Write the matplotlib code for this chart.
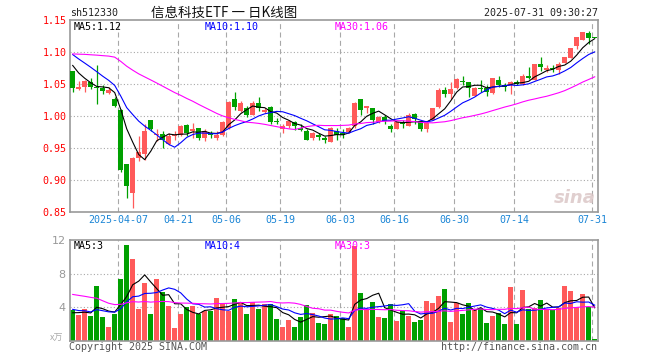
import matplotlib
matplotlib.use('Agg')
import matplotlib.pyplot as plt
import numpy as np
import pandas as pd

# trading days shown on the chart
dates = ['2025-03-25', '2025-03-26', '2025-03-27', '2025-03-28', '2025-03-31',
         '2025-04-01', '2025-04-02', '2025-04-03', '2025-04-07', '2025-04-08',
         '2025-04-09', '2025-04-10', '2025-04-11', '2025-04-14', '2025-04-15',
         '2025-04-16', '2025-04-17', '2025-04-18', '2025-04-21', '2025-04-22',
         '2025-04-23', '2025-04-24', '2025-04-25', '2025-04-28', '2025-04-29',
         '2025-04-30', '2025-05-06', '2025-05-07', '2025-05-08', '2025-05-09',
         '2025-05-12', '2025-05-13', '2025-05-14', '2025-05-15', '2025-05-16',
         '2025-05-19', '2025-05-20', '2025-05-21', '2025-05-22', '2025-05-23',
         '2025-05-26', '2025-05-27', '2025-05-28', '2025-05-29', '2025-05-30',
         '2025-06-03', '2025-06-04', '2025-06-05', '2025-06-06', '2025-06-09',
         '2025-06-10', '2025-06-11', '2025-06-12', '2025-06-13', '2025-06-16',
         '2025-06-17', '2025-06-18', '2025-06-19', '2025-06-20', '2025-06-23',
         '2025-06-24', '2025-06-25', '2025-06-26', '2025-06-27', '2025-06-30',
         '2025-07-01', '2025-07-02', '2025-07-03', '2025-07-04', '2025-07-07',
         '2025-07-08', '2025-07-09', '2025-07-10', '2025-07-11', '2025-07-14',
         '2025-07-15', '2025-07-16', '2025-07-17', '2025-07-18', '2025-07-21',
         '2025-07-22', '2025-07-23', '2025-07-24', '2025-07-25', '2025-07-28',
         '2025-07-29', '2025-07-30', '2025-07-31']

opens = [1.070, 1.042, 1.046, 1.053, 1.045, 1.043, 1.036, 1.026, 1.010, 0.925,
         0.879, 0.935, 0.941, 0.993, 0.970, 0.972, 0.957, 0.968, 0.971, 0.986,
         0.976, 0.981, 0.965, 0.973, 0.965, 0.970, 0.981, 1.027, 1.008, 1.012,
         1.002, 1.020, 1.006, 1.014, 0.992, 0.980, 0.984, 0.991, 0.981, 0.976,
         0.965, 0.970, 0.966, 0.960, 0.977, 0.973, 0.975, 0.985, 1.026, 1.013,
         1.013, 0.991, 0.998, 0.985, 0.980, 0.991, 0.985, 1.003, 0.992, 0.979,
         0.994, 1.014, 1.040, 1.034, 1.043, 1.055, 1.053, 1.032, 1.044, 1.043,
         1.036, 1.057, 1.049, 1.049, 1.053, 1.050, 1.063, 1.057, 1.081, 1.072,
         1.075, 1.072, 1.083, 1.091, 1.110, 1.119, 1.130, 1.1225]
highs = [1.071, 1.055, 1.057, 1.059, 1.080, 1.048, 1.045, 1.030, 1.011, 0.925,
         0.936, 0.969, 0.988, 0.994, 0.980, 0.977, 0.973, 0.976, 0.986, 0.987,
         0.989, 0.982, 0.979, 0.977, 0.976, 0.992, 1.023, 1.038, 1.024, 1.015,
         1.023, 1.029, 1.013, 1.015, 0.997, 0.988, 0.993, 0.992, 0.988, 0.979,
         0.975, 0.973, 0.968, 0.983, 0.981, 0.979, 0.983, 1.022, 1.026, 1.016,
         1.013, 1.000, 1.002, 0.988, 0.991, 0.994, 1.005, 1.005, 0.994, 0.992,
         1.013, 1.043, 1.045, 1.053, 1.059, 1.062, 1.053, 1.046, 1.057, 1.049,
         1.060, 1.062, 1.051, 1.055, 1.057, 1.065, 1.076, 1.081, 1.092, 1.079,
         1.080, 1.085, 1.092, 1.107, 1.124, 1.131, 1.133, 1.1225]
lows = [1.038, 1.041, 1.038, 1.042, 1.019, 1.034, 1.034, 1.014, 0.913, 0.872,
        0.856, 0.930, 0.931, 0.976, 0.961, 0.950, 0.955, 0.963, 0.968, 0.968,
        0.966, 0.963, 0.961, 0.965, 0.963, 0.968, 0.980, 1.010, 1.006, 0.998,
        1.001, 1.008, 1.005, 0.988, 0.987, 0.973, 0.982, 0.978, 0.976, 0.962,
        0.963, 0.963, 0.958, 0.959, 0.963, 0.965, 0.973, 0.982, 1.002, 1.005,
        0.988, 0.989, 0.988, 0.975, 0.979, 0.982, 0.984, 0.987, 0.977, 0.975,
        0.993, 1.012, 1.029, 1.027, 1.042, 1.049, 1.029, 1.031, 1.038, 1.032,
        1.035, 1.046, 1.039, 1.034, 1.049, 1.049, 1.058, 1.057, 1.071, 1.069,
        1.069, 1.065, 1.083, 1.090, 1.104, 1.119, 1.112, 1.122]
closes = [1.043, 1.046, 1.054, 1.045, 1.043, 1.039, 1.040, 1.016, 0.915, 0.890,
          0.935, 0.943, 0.976, 0.980, 0.972, 0.963, 0.968, 0.970, 0.985, 0.973,
          0.980, 0.965, 0.977, 0.971, 0.971, 0.991, 1.022, 1.014, 1.020, 1.002,
          1.020, 1.013, 1.010, 0.990, 0.990, 0.985, 0.992, 0.984, 0.978, 0.963,
          0.973, 0.967, 0.962, 0.982, 0.971, 0.971, 0.981, 1.021, 1.010, 1.015,
          0.994, 0.998, 0.992, 0.980, 0.990, 0.988, 1.001, 0.996, 0.980, 0.989,
          1.013, 1.040, 1.034, 1.042, 1.058, 1.053, 1.043, 1.044, 1.042, 1.038,
          1.059, 1.049, 1.046, 1.053, 1.050, 1.063, 1.059, 1.081, 1.076, 1.075,
          1.074, 1.081, 1.092, 1.106, 1.123, 1.131, 1.122, 1.122]
# volume, in 10k
volumes = [3.68, 3.08, 3.76, 2.96, 6.56, 2.84, 1.64, 3.2, 7.4, 11.36,
           9.8, 3.8, 6.92, 3.2, 7.4, 5.84, 4.16, 1.52, 3.2, 4.0,
           4.16, 3.2, 3.6, 3.56, 5.12, 4.56, 3.6, 5.0, 4.68, 3.2,
           4.6, 3.8, 4.4, 4.4, 2.6, 1.68, 2.48, 1.64, 2.8, 4.24,
           3.32, 2.12, 2.0, 3.16, 2.96, 2.7, 1.64, 11.3, 5.76, 3.8,
           4.68, 2.84, 2.72, 4.4, 2.4, 3.52, 2.96, 2.28, 2.48, 4.8,
           4.52, 5.36, 6.2, 2.24, 4.48, 3.2, 4.56, 3.68, 3.88, 2.12,
           2.96, 3.36, 2.0, 6.44, 2.0, 6.08, 3.8, 3.96, 4.88, 3.8,
           3.68, 3.88, 6.56, 5.96, 4.0, 5.6, 4.0, 0.2]

# 29 sessions before the window, needed for the moving averages
prior_close = [1.058, 1.062, 1.065, 1.060, 1.063, 1.061, 1.065,
               1.112, 1.118, 1.121, 1.115, 1.119, 1.122, 1.116, 1.113, 1.118,
               1.120, 1.114, 1.117, 1.111,
               1.115, 1.118, 1.110, 1.112, 1.110, 1.105, 1.095, 1.080, 1.072]
prior_volume = [6.5, 7.0, 6.8, 9.5, 12.0, 10.5, 8.0, 6.5, 6.0, 5.5,
                5.2, 5.0, 5.4, 5.8, 5.0, 4.8, 5.2, 4.6, 4.4, 4.7,
                4.5, 4.0, 4.3, 3.8, 4.2, 3.0, 3.5, 3.4, 3.2]

tick_dates = ['2025-04-07', '2025-04-21', '2025-05-06', '2025-05-19', '2025-06-03',
              '2025-06-16', '2025-06-30', '2025-07-14', '2025-07-31']

RED = '#ff5a5a'
GREEN = '#00a000'
GRID = '#a8a8a8'
MONO = 'DejaVu Sans Mono'

n = len(dates)
x = np.arange(n)
o = np.array(opens); h = np.array(highs); l = np.array(lows); c = np.array(closes)
v = np.array(volumes)
up = c >= o
colors = np.where(up, RED, GREEN)

all_close = pd.Series(prior_close + closes)
all_vol = pd.Series(prior_volume + volumes)
k = len(prior_close)
ma = {p: all_close.rolling(p).mean().values[k:] for p in (5, 10, 30)}
vma = {p: all_vol.rolling(p).mean().values[k:] for p in (5, 10, 30)}
ma_colors = {5: 'black', 10: '#0000ff', 30: '#ff00ff'}

W, H = 660, 360
fig = plt.figure(figsize=(6.6, 3.6), dpi=100)


def box(x0, y0, x1, y1):
    return [x0 / W, 1 - y1 / H, (x1 - x0) / W, (y1 - y0) / H]


def ftext(px, py, s, **kw):
    fig.text(px / W, 1 - py / H, s, **kw)


ax = fig.add_axes(box(70, 20, 598, 212))
axv = fig.add_axes(box(70, 240, 598, 341))

tick_pos = [dates.index(d) - 0.45 for d in tick_dates]
tick_lab = [tick_dates[0]] + [d[5:] for d in tick_dates[1:]]

for a in (ax, axv):
    a.set_xlim(-0.45, n - 0.45)
    for s in a.spines.values():
        s.set_color('#999999')
        s.set_linewidth(1.2)
    for t in tick_pos:
        a.axvline(t, color=GRID, lw=0.8, ls=(0, (4.5, 3)), zorder=0)

# price panel
ax.set_ylim(0.85, 1.15)
for yv in [0.90, 0.95, 1.00, 1.05, 1.10]:
    ax.axhline(yv, color=GRID, lw=0.8, ls=(0, (1, 2)), zorder=0)
ax.vlines(x, l, h, colors=colors, lw=0.9, zorder=2)
body_h = np.maximum(np.abs(c - o), 0.0012)
ax.bar(x, body_h, bottom=np.minimum(o, c), width=0.8, color=colors, zorder=3)
for p in (5, 10, 30):
    ax.plot(x, ma[p], color=ma_colors[p], lw=0.8, zorder=4)

ax.set_yticks([0.85, 0.90, 0.95, 1.00, 1.05, 1.10, 1.15])
ax.set_yticklabels(['%.2f' % t for t in ax.get_yticks()], family=MONO, fontsize=7.2, color='red')
ax.set_xticks(tick_pos)
ax.set_xticklabels(tick_lab, family=MONO, fontsize=7.2, color='#1c86d6')
ax.tick_params(length=0, pad=2.5)

# volume panel
axv.set_ylim(0, 12)
for yv in [4, 8]:
    axv.axhline(yv, color=GRID, lw=0.8, ls=(0, (1, 2)), zorder=0)
axv.bar(x, v, width=0.8, color=colors, zorder=2)
for p in (5, 10, 30):
    axv.plot(x, vma[p], color=ma_colors[p], lw=0.8, zorder=4)
axv.set_yticks([4, 8, 12])
axv.set_yticklabels(['4', '8', '12'], fontsize=8, color='#999999')
axv.set_xticks([])
axv.tick_params(length=0, pad=3)

# header and labels
ftext(70, 13, 'sh512330', family=MONO, fontsize=7.2, color='#222222', va='center')
ftext(151, 13, '信息科技ETF 一 日K线图', family=['Noto Sans CJK SC', 'DejaVu Sans'],
      fontsize=9.7, color='#111111', va='center')
ftext(598, 13, '2025-07-31 09:30:27', family=MONO, fontsize=7.2, color='#222222',
      va='center', ha='right')

ftext(74, 27, 'MA5:%.2f' % ma[5][-1], family=MONO, fontsize=7.2, color='black', va='center')
ftext(205, 27, 'MA10:%.2f' % ma[10][-1], family=MONO, fontsize=7.2, color='#0000ff', va='center')
ftext(335, 27, 'MA30:%.2f' % ma[30][-1], family=MONO, fontsize=7.2, color='#ff00ff', va='center')

ftext(74, 246, 'MA5:3', family=MONO, fontsize=7.2, color='black', va='center')
ftext(205, 246, 'MA10:4', family=MONO, fontsize=7.2, color='#0000ff', va='center')
ftext(335, 246, 'MA30:3', family=MONO, fontsize=7.2, color='#ff00ff', va='center')

ftext(63, 338, 'x万', family=['Noto Sans CJK SC', 'DejaVu Sans'], fontsize=6.5,
      color='#aaaaaa', va='center', ha='right')
ftext(69, 347, 'Copyright 2025 SINA.COM', family=MONO, fontsize=7.2, color='#555555', va='center')
ftext(597, 347, 'http://finance.sina.com.cn', family=MONO, fontsize=7.2, color='#555555',
      va='center', ha='right')

# faint watermark
ftext(596, 198, 'sina', fontsize=13, fontweight='bold', style='italic', color='#d9c3c3',
      va='center', ha='right', alpha=0.8)

fig.savefig('out.png', dpi=100)
